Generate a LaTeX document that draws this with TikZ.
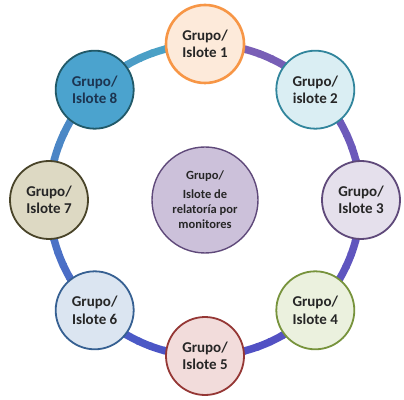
\documentclass[tikz,border=0pt]{standalone}
\usepackage{fontspec}
\setmainfont{Carlito}
\usepackage{xcolor}
\usepackage{tikz}
\usetikzlibrary{positioning,calc}
\definecolor{ringpurple}{HTML}{7E60B4}
\definecolor{ringviolet}{HTML}{4B4EC6}
\definecolor{ringteal}{HTML}{4BACC6}
\definecolor{txtgray}{HTML}{262626}
\definecolor{txtnavy}{HTML}{1C3450}
\definecolor{fillone}{HTML}{FDEADA}\definecolor{edgeone}{HTML}{F79646}
\definecolor{filltwo}{HTML}{DAEEF3}\definecolor{edgetwo}{HTML}{31859C}
\definecolor{fillthree}{HTML}{E5E0EC}\definecolor{edgethree}{HTML}{5F497A}
\definecolor{fillfour}{HTML}{EBF1DE}\definecolor{edgefour}{HTML}{77933C}
\definecolor{fillfive}{HTML}{F2DCDB}\definecolor{edgefive}{HTML}{953735}
\definecolor{fillsix}{HTML}{DBE5F1}\definecolor{edgesix}{HTML}{366092}
\definecolor{fillseven}{HTML}{DDD9C3}\definecolor{edgeseven}{HTML}{494429}
\definecolor{filleight}{HTML}{4BA3CE}\definecolor{edgeeight}{HTML}{215968}
\definecolor{fillmid}{HTML}{CCC1DA}

\tikzset{
  grupo/.style={circle, minimum size=78pt, inner sep=0pt, line width=1.8pt,
    align=center, text=txtgray, font=\fontsize{15}{17.5}\selectfont\bfseries},
}

\begin{document}
\begin{tikzpicture}[x=1pt,y=1pt]
  \useasboundingbox (0,0) rectangle (404,399);
  \coordinate (mid) at (205,199);

  % ring, purple -> violet -> teal, clockwise from the top
  \foreach \k in {0,...,71}{
    \pgfmathsetmacro{\angA}{90-5*\k}
    \pgfmathsetmacro{\angB}{90-5*\k-5.6}
    \ifnum\k<36
      \pgfmathtruncatemacro{\mixp}{100*\k/36}
      \colorlet{ringcol}{ringviolet!\mixp!ringpurple}
    \else
      \pgfmathtruncatemacro{\mixp}{100*(\k-36)/36}
      \colorlet{ringcol}{ringteal!\mixp!ringviolet}
    \fi
    \draw[ringcol, line width=7.5pt] (mid) ++(\angA:156)
      arc[start angle=\angA, end angle=\angB, radius=156];
  }

  % groups round the ring
  \node[grupo, fill=fillone, draw=edgeone, line width=2.6pt] (g1) at ($(mid)+(90:156)$) {Grupo/\\Islote 1};
  \node[grupo, fill=filltwo, draw=edgetwo] (g2) at ($(mid)+(45:156)$) {Grupo/\\islote 2};
  \node[grupo, fill=fillthree, draw=edgethree] (g3) at ($(mid)+(0:156)$) {Grupo/\\Islote 3};
  \node[grupo, fill=fillfour, draw=edgefour] (g4) at ($(mid)+(-45:156)$) {Grupo/\\Islote 4};
  \node[grupo, fill=fillfive, draw=edgefive] (g5) at ($(mid)+(-90:156)$) {Grupo/\\Islote 5};
  \node[grupo, fill=fillsix, draw=edgesix] (g6) at ($(mid)+(-135:156)$) {Grupo/\\Islote 6};
  \node[grupo, fill=fillseven, draw=edgeseven] (g7) at ($(mid)+(180:156)$) {Grupo/\\Islote 7};
  \node[grupo, fill=filleight, draw=edgeeight, text=txtnavy] (g8) at ($(mid)+(135:156)$) {Grupo/\\Islote 8};

  % centre
  \node[circle, minimum size=106pt, inner sep=0pt, fill=fillmid, draw=edgethree, line width=1.4pt,
        align=center, text=txtgray, font=\fontsize{12.5}{15}\selectfont\bfseries]
    (relatoria) at (mid) {Grupo/\\[4pt]Islote de\\relatoría por\\monitores};
\end{tikzpicture}
\end{document}
